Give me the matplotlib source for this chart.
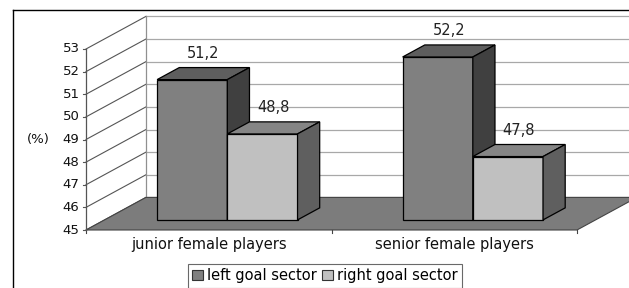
import matplotlib.pyplot as plt
from matplotlib.patches import Polygon
from matplotlib.lines import Line2D

plt.rcParams["font.family"] = ["DejaVu Sans"]

categories = ["junior female players", "senior female players"]
series = ["left goal sector", "right goal sector"]
left_goal = [51.2, 52.2]
right_goal = [48.8, 47.8]
yticks = [45, 46, 47, 48, 49, 50, 51, 52, 53]

YMIN, YMAX = 45, 53
DX, DY = 0.244, 1.44          # full depth offset in data units
F0, F1 = 0.31, 0.68           # bar front/back depth fraction
WIDTH = 0.286

front_cols = ["#808080", "#c0c0c0"]
top_cols = ["#5e5e5e", "#858585"]
side_cols = ["#404040", "#5f5f5f"]

fig = plt.figure(figsize=(6.29, 2.88), dpi=100)
ax = fig.add_axes([86 / 629, 58 / 288, 491 / 629, 181 / 288])
ax.set_xlim(0, len(categories))
ax.set_ylim(YMIN, YMAX)
ax.axis("off")

# outer frame
fig.add_artist(Line2D([13 / 629, 1], [1 - 10 / 288] * 2, color="black", lw=1))
fig.add_artist(Line2D([13 / 629] * 2, [0, 1 - 10 / 288], color="black", lw=1))

nx = len(categories)

# back wall gridlines and left wall diagonals
for v in yticks:
    ax.plot([DX, nx + DX], [v + DY, v + DY], color="#a8a8a8", lw=0.9,
            clip_on=False, zorder=1)
    ax.plot([0, DX], [v, v + DY], color="#555555", lw=0.8,
            clip_on=False, zorder=1)
ax.plot([DX, DX], [YMIN + DY, YMAX + DY], color="#909090", lw=0.9,
        clip_on=False, zorder=1)
ax.plot([0, 0], [YMIN, YMAX], color="#555555", lw=0.9, clip_on=False,
        zorder=3)
for v in yticks:
    ax.plot([-0.012, 0], [v, v], color="#555555", lw=0.8, clip_on=False)
    ax.text(-0.026, v, str(v), ha="right", va="center", fontsize=9.5,
            color="#111111")

# floor
floor = Polygon([(0, YMIN), (DX, YMIN + DY), (nx + DX, YMIN + DY),
                 (nx, YMIN)], closed=True, facecolor="#7c7c7c",
                edgecolor="#444444", lw=0.8, clip_on=False, zorder=2)
ax.add_patch(floor)
for i in range(nx + 1):
    ax.plot([i, i], [YMIN, YMIN - 0.15], color="#444444", lw=0.8,
            clip_on=False)

# bars
for i, cat in enumerate(categories):
    c = i + 0.5
    for j, vals in enumerate([left_goal, right_goal]):
        v = vals[i]
        x0 = c - WIDTH + j * WIDTH
        x1 = x0 + WIDTH
        ax.bar(x0 + F0 * DX, v - YMIN, width=WIDTH, bottom=YMIN + F0 * DY,
               align="edge", color=front_cols[j], edgecolor="black", lw=0.9,
               clip_on=False, zorder=4)
        top = [(x0 + F0 * DX, v + F0 * DY), (x1 + F0 * DX, v + F0 * DY),
               (x1 + F1 * DX, v + F1 * DY), (x0 + F1 * DX, v + F1 * DY)]
        side = [(x1 + F0 * DX, YMIN + F0 * DY), (x1 + F0 * DX, v + F0 * DY),
                (x1 + F1 * DX, v + F1 * DY), (x1 + F1 * DX, YMIN + F1 * DY)]
        ax.add_patch(Polygon(top, closed=True, facecolor=top_cols[j],
                             edgecolor="black", lw=0.9, clip_on=False,
                             zorder=4))
        ax.add_patch(Polygon(side, closed=True, facecolor=side_cols[j],
                             edgecolor="black", lw=0.9, clip_on=False,
                             zorder=4))
        ax.annotate(f"{v:.1f}".replace(".", ","),
                    ((x0 + x1) / 2 + (F0 + F1) / 2 * DX, v + F1 * DY),
                    xytext=(0, 14), textcoords="offset pixels",
                    ha="center", va="center", fontsize=10.5, color="#222222",
                    annotation_clip=False, zorder=6)
    ax.text(c, YMIN - 0.62, cat, ha="center", va="center", fontsize=10.5,
            color="#111111")

fig.text(38 / 629, 1 - 139 / 288, "(%)", ha="center", va="center",
         fontsize=9.5, color="#111111")

handles = [plt.Rectangle((0, 0), 1, 1, facecolor=front_cols[k],
                         edgecolor="#333333", lw=0.8) for k in range(2)]
leg = fig.legend(handles, series, loc="upper center", ncol=2,
                 bbox_to_anchor=(325 / 629, 1 - 264 / 288), frameon=True,
                 fancybox=False, fontsize=10.5, handlelength=0.7,
                 handleheight=0.7, handletextpad=0.3, columnspacing=0.4,
                 borderpad=0.3, borderaxespad=0)
leg.get_frame().set_edgecolor("#444444")
leg.get_frame().set_linewidth(0.8)

fig.savefig("out.png", dpi=100)
